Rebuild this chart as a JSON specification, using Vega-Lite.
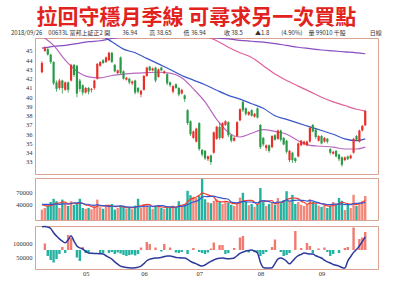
{
"$schema": "https://vega.github.io/schema/vega-lite/v6.json",
"padding": {"left": 10, "top": 6, "right": 0, "bottom": 0},
"background": "white",
"title": {"text": "拉回守穩月季線 可尋求另一次買點", "font": "Noto Sans CJK TC", "fontSize": 21, "fontWeight": "bold", "color": "#e2231d", "anchor": "middle", "offset": 2},
"spacing": 2,
"datasets": {
"k": [
{"i":0,"o":42.7,"h":43.9,"l":42.6,"c":43.7,"v":26000,"a":38000,"b":39000,"f":0,"n":161000},
{"i":1,"o":45.0,"h":45.5,"l":44.9,"c":45.3,"v":30000,"a":36000,"b":39000,"f":13000,"n":162000},
{"i":2,"o":45.2,"h":45.4,"l":44.5,"c":44.6,"v":37000,"a":35000,"b":39000,"f":-12000,"n":160000},
{"i":3,"o":44.6,"h":44.7,"l":43.6,"c":43.8,"v":45000,"a":36000,"b":39000,"f":-20000,"n":155000},
{"i":4,"o":43.8,"h":43.9,"l":41.3,"c":41.5,"v":53000,"a":38200,"b":39000,"f":-25000,"n":140000},
{"i":5,"o":41.6,"h":41.8,"l":40.6,"c":40.9,"v":47000,"a":42400,"b":39700,"f":-18000,"n":128000},
{"i":6,"o":41.0,"h":42.0,"l":40.8,"c":41.8,"v":30000,"a":42400,"b":39200,"f":-8000,"n":118000},
{"i":7,"o":41.8,"h":41.9,"l":40.4,"c":41.0,"v":51000,"a":45200,"b":40100,"f":6000,"n":110000},
{"i":8,"o":40.8,"h":41.7,"l":40.7,"c":41.6,"v":42000,"a":44600,"b":40300,"f":-6000,"n":104000},
{"i":9,"o":41.6,"h":41.7,"l":40.5,"c":40.8,"v":35000,"a":41000,"b":39600,"f":30000,"n":115000},
{"i":10,"o":41.8,"h":43.6,"l":41.7,"c":43.5,"v":47000,"a":41000,"b":41700,"f":24000,"n":129000},
{"i":11,"o":43.5,"h":43.6,"l":42.2,"c":42.4,"v":38000,"a":42600,"b":42500,"f":0,"n":110000},
{"i":12,"o":43.4,"h":43.5,"l":40.0,"c":40.4,"v":40000,"a":40400,"b":42800,"f":-15000,"n":93000},
{"i":13,"o":41.8,"h":42.0,"l":40.6,"c":40.9,"v":53000,"a":42600,"b":43600,"f":-22000,"n":86000},
{"i":14,"o":41.3,"h":41.4,"l":40.2,"c":40.5,"v":30000,"a":41600,"b":41300,"f":6000,"n":82000},
{"i":15,"o":40.5,"h":41.1,"l":40.4,"c":41.0,"v":28000,"a":37800,"b":39400,"f":-6000,"n":74000},
{"i":16,"o":41.0,"h":41.1,"l":40.3,"c":40.6,"v":30000,"a":36200,"b":39400,"f":-5000,"n":68000},
{"i":17,"o":40.8,"h":41.0,"l":40.5,"c":40.9,"v":27000,"a":33600,"b":37000,"f":0,"n":67000},
{"i":18,"o":41.0,"h":41.9,"l":40.8,"c":41.8,"v":38000,"a":30600,"b":36600,"f":0,"n":66000},
{"i":19,"o":42.0,"h":43.7,"l":41.9,"c":43.6,"v":51000,"a":34800,"b":38200,"f":0,"n":66000},
{"i":20,"o":43.4,"h":43.9,"l":43.3,"c":43.8,"v":32000,"a":35600,"b":36700,"f":-8000,"n":65000},
{"i":21,"o":44.0,"h":44.1,"l":43.6,"c":43.7,"v":28000,"a":35200,"b":35700,"f":-6000,"n":64000},
{"i":22,"o":43.8,"h":44.4,"l":43.7,"c":44.3,"v":35000,"a":36800,"b":35200,"f":0,"n":58000},
{"i":23,"o":44.0,"h":44.9,"l":43.9,"c":44.8,"v":38000,"a":36800,"b":33700,"f":-6000,"n":52000},
{"i":24,"o":44.8,"h":44.9,"l":43.7,"c":43.8,"v":40000,"a":34600,"b":34700,"f":-4000,"n":46000},
{"i":25,"o":43.5,"h":43.6,"l":42.7,"c":42.8,"v":26000,"a":33400,"b":34500,"f":-8000,"n":36000},
{"i":26,"o":42.6,"h":43.0,"l":42.5,"c":42.9,"v":30000,"a":33800,"b":34500,"f":-5000,"n":28000},
{"i":27,"o":44.3,"h":44.4,"l":42.5,"c":42.6,"v":36000,"a":34000,"b":35400,"f":-7000,"n":21000},
{"i":28,"o":42.8,"h":42.9,"l":41.9,"c":42.0,"v":33000,"a":33000,"b":34900,"f":-10000,"n":18000},
{"i":29,"o":41.9,"h":42.2,"l":41.8,"c":42.1,"v":28000,"a":30600,"b":32600,"f":-12000,"n":16000},
{"i":30,"o":42.0,"h":42.1,"l":41.4,"c":41.6,"v":30000,"a":31400,"b":32400,"f":-10000,"n":15000},
{"i":31,"o":41.5,"h":41.8,"l":41.3,"c":41.7,"v":27000,"a":30800,"b":32300,"f":-9000,"n":14000},
{"i":32,"o":41.8,"h":41.9,"l":40.3,"c":40.5,"v":36000,"a":30800,"b":32400,"f":-11000,"n":15000},
{"i":33,"o":41.0,"h":41.1,"l":40.4,"c":40.6,"v":53000,"a":34800,"b":33900,"f":-8000,"n":17000},
{"i":34,"o":40.3,"h":40.8,"l":40.0,"c":40.7,"v":30000,"a":35200,"b":32900,"f":5000,"n":21000},
{"i":35,"o":40.8,"h":42.4,"l":40.7,"c":42.3,"v":40000,"a":37200,"b":34300,"f":0,"n":30000},
{"i":36,"o":42.3,"h":43.3,"l":42.2,"c":43.2,"v":36000,"a":39000,"b":34900,"f":16000,"n":40000},
{"i":37,"o":43.3,"h":43.4,"l":42.8,"c":42.9,"v":33000,"a":38400,"b":34600,"f":12000,"n":46000},
{"i":38,"o":42.9,"h":43.2,"l":42.8,"c":43.1,"v":28000,"a":33400,"b":34100,"f":0,"n":48000},
{"i":39,"o":43.2,"h":43.3,"l":41.6,"c":41.8,"v":35000,"a":34400,"b":34800,"f":5000,"n":50000},
{"i":40,"o":42.2,"h":43.1,"l":42.1,"c":43.0,"v":38000,"a":34000,"b":35600,"f":0,"n":50000},
{"i":41,"o":43.2,"h":43.3,"l":42.8,"c":42.9,"v":30000,"a":32800,"b":35900,"f":-3000,"n":52000},
{"i":42,"o":42.6,"h":42.9,"l":42.5,"c":42.8,"v":28000,"a":31800,"b":35100,"f":12000,"n":55000},
{"i":43,"o":42.5,"h":42.6,"l":41.3,"c":41.5,"v":33000,"a":32800,"b":33100,"f":0,"n":57000},
{"i":44,"o":41.6,"h":41.7,"l":41.1,"c":41.3,"v":30000,"a":31800,"b":33100,"f":5000,"n":57000},
{"i":45,"o":40.6,"h":41.3,"l":40.4,"c":41.2,"v":36000,"a":31400,"b":32700,"f":0,"n":55000},
{"i":46,"o":41.4,"h":41.5,"l":40.9,"c":41.0,"v":32000,"a":31800,"b":32300,"f":-5000,"n":52000},
{"i":47,"o":41.0,"h":41.1,"l":40.1,"c":40.3,"v":47000,"a":35600,"b":33700,"f":-6000,"n":51000},
{"i":48,"o":40.4,"h":40.9,"l":40.3,"c":40.8,"v":38000,"a":36600,"b":34700,"f":-4000,"n":50000},
{"i":49,"o":40.2,"h":40.3,"l":39.5,"c":39.8,"v":40000,"a":38600,"b":35200,"f":0,"n":50000},
{"i":50,"o":38.6,"h":38.7,"l":37.0,"c":37.2,"v":73000,"a":46000,"b":38700,"f":-8000,"n":45000},
{"i":51,"o":37.4,"h":37.5,"l":35.8,"c":36.0,"v":62000,"a":52000,"b":41900,"f":0,"n":38000},
{"i":52,"o":35.6,"h":36.4,"l":35.5,"c":36.3,"v":58000,"a":54200,"b":44900,"f":4000,"n":33000},
{"i":53,"o":35.2,"h":36.7,"l":35.1,"c":36.6,"v":55000,"a":57600,"b":47100,"f":0,"n":29000},
{"i":54,"o":37.2,"h":37.3,"l":34.2,"c":34.4,"v":60000,"a":61600,"b":50100,"f":-4000,"n":24000},
{"i":55,"o":34.3,"h":34.4,"l":33.6,"c":33.8,"v":103000,"a":67600,"b":56800,"f":-6000,"n":21000},
{"i":56,"o":34.2,"h":34.3,"l":33.2,"c":33.4,"v":52000,"a":65600,"b":58800,"f":-8000,"n":25000},
{"i":57,"o":33.3,"h":33.7,"l":33.1,"c":33.6,"v":44000,"a":62800,"b":58500,"f":-5000,"n":32000},
{"i":58,"o":33.7,"h":33.8,"l":32.7,"c":33.0,"v":42000,"a":60200,"b":58900,"f":3000,"n":38000},
{"i":59,"o":34.0,"h":36.3,"l":33.9,"c":36.2,"v":48000,"a":57800,"b":59700,"f":15000,"n":43000},
{"i":60,"o":35.5,"h":36.9,"l":35.4,"c":36.8,"v":52000,"a":47600,"b":57600,"f":0,"n":47000},
{"i":61,"o":36.8,"h":37.3,"l":35.4,"c":35.6,"v":45000,"a":46200,"b":55900,"f":10000,"n":49000},
{"i":62,"o":35.6,"h":37.3,"l":35.5,"c":37.2,"v":40000,"a":45400,"b":54100,"f":10000,"n":50000},
{"i":63,"o":37.0,"h":37.5,"l":36.9,"c":37.4,"v":47000,"a":46400,"b":53300,"f":-8000,"n":48000},
{"i":64,"o":37.3,"h":37.4,"l":35.7,"c":35.9,"v":44000,"a":45600,"b":51700,"f":-6000,"n":47000},
{"i":65,"o":35.9,"h":36.0,"l":35.1,"c":35.3,"v":38000,"a":42800,"b":45200,"f":0,"n":48000},
{"i":66,"o":35.3,"h":35.8,"l":35.2,"c":35.6,"v":35000,"a":40800,"b":43500,"f":4000,"n":50000},
{"i":67,"o":35.8,"h":37.4,"l":35.7,"c":37.3,"v":40000,"a":40800,"b":43100,"f":0,"n":58000},
{"i":68,"o":37.5,"h":38.8,"l":37.4,"c":38.7,"v":56000,"a":42600,"b":44500,"f":25000,"n":66000},
{"i":69,"o":39.5,"h":39.6,"l":38.4,"c":38.6,"v":68000,"a":47400,"b":46500,"f":28000,"n":71000},
{"i":70,"o":38.8,"h":38.9,"l":38.0,"c":38.2,"v":45000,"a":48800,"b":45800,"f":0,"n":75000},
{"i":71,"o":38.1,"h":38.5,"l":38.0,"c":38.4,"v":37000,"a":49200,"b":45000,"f":-5000,"n":77000},
{"i":72,"o":38.6,"h":38.7,"l":37.9,"c":38.0,"v":40000,"a":49200,"b":45000,"f":0,"n":78000},
{"i":73,"o":37.9,"h":38.3,"l":37.8,"c":38.2,"v":33000,"a":44600,"b":43600,"f":-4000,"n":74000},
{"i":74,"o":38.8,"h":38.9,"l":37.7,"c":37.8,"v":38000,"a":38600,"b":43000,"f":-6000,"n":68000},
{"i":75,"o":37.0,"h":37.1,"l":34.4,"c":34.6,"v":80000,"a":45600,"b":47200,"f":-12000,"n":35000},
{"i":76,"o":35.6,"h":35.7,"l":34.7,"c":34.9,"v":45000,"a":47200,"b":48200,"f":-8000,"n":16000},
{"i":77,"o":34.5,"h":34.9,"l":34.2,"c":34.8,"v":35000,"a":46200,"b":47700,"f":-4000,"n":14000},
{"i":78,"o":34.8,"h":34.9,"l":34.0,"c":34.2,"v":40000,"a":47600,"b":46100,"f":0,"n":14000},
{"i":79,"o":34.6,"h":35.9,"l":34.5,"c":35.8,"v":44000,"a":48800,"b":43700,"f":6000,"n":15000},
{"i":80,"o":35.9,"h":36.0,"l":35.3,"c":35.4,"v":38000,"a":40400,"b":43000,"f":21000,"n":30000},
{"i":81,"o":35.5,"h":36.5,"l":35.4,"c":36.4,"v":55000,"a":42400,"b":44800,"f":0,"n":46000},
{"i":82,"o":36.4,"h":36.5,"l":35.2,"c":35.4,"v":42000,"a":43800,"b":45000,"f":-4000,"n":50000},
{"i":83,"o":35.6,"h":35.7,"l":34.8,"c":34.9,"v":50000,"a":45800,"b":46700,"f":-12000,"n":46000},
{"i":84,"o":35.3,"h":35.4,"l":33.9,"c":34.1,"v":72000,"a":51400,"b":50100,"f":-10000,"n":38000},
{"i":85,"o":33.2,"h":34.3,"l":33.0,"c":34.2,"v":48000,"a":53400,"b":46900,"f":-6000,"n":29000},
{"i":86,"o":34.0,"h":34.1,"l":32.9,"c":33.2,"v":63000,"a":55000,"b":48700,"f":0,"n":38000},
{"i":87,"o":33.4,"h":33.5,"l":32.9,"c":33.1,"v":40000,"a":54600,"b":49200,"f":38000,"n":50000},
{"i":88,"o":33.6,"h":35.1,"l":33.5,"c":35.0,"v":45000,"a":53600,"b":49700,"f":0,"n":58000},
{"i":89,"o":34.8,"h":35.4,"l":34.7,"c":35.3,"v":38000,"a":46800,"b":49100,"f":4000,"n":63000},
{"i":90,"o":34.9,"h":35.3,"l":34.8,"c":35.2,"v":35000,"a":44200,"b":48800,"f":0,"n":68000},
{"i":91,"o":34.8,"h":35.3,"l":34.7,"c":35.2,"v":40000,"a":39600,"b":47300,"f":14000,"n":66000},
{"i":92,"o":35.2,"h":36.8,"l":35.1,"c":36.7,"v":52000,"a":42000,"b":48300,"f":8000,"n":64000},
{"i":93,"o":37.0,"h":37.1,"l":36.2,"c":36.3,"v":45000,"a":42000,"b":47800,"f":-6000,"n":64000},
{"i":94,"o":36.5,"h":36.6,"l":35.5,"c":35.7,"v":40000,"a":42400,"b":44600,"f":0,"n":58000},
{"i":95,"o":35.3,"h":35.9,"l":35.2,"c":35.8,"v":36000,"a":42600,"b":43400,"f":3000,"n":54000},
{"i":96,"o":35.8,"h":35.9,"l":34.9,"c":35.0,"v":33000,"a":41200,"b":40400,"f":0,"n":50000},
{"i":97,"o":35.2,"h":35.7,"l":35.1,"c":35.6,"v":38000,"a":38400,"b":40200,"f":5000,"n":42000},
{"i":98,"o":35.5,"h":35.6,"l":35.0,"c":35.2,"v":30000,"a":35400,"b":38700,"f":-4000,"n":36000},
{"i":99,"o":34.4,"h":34.5,"l":33.8,"c":34.0,"v":36000,"a":34600,"b":38500,"f":-12000,"n":32000},
{"i":100,"o":33.9,"h":34.2,"l":33.8,"c":34.1,"v":45000,"a":36400,"b":39500,"f":-8000,"n":27000},
{"i":101,"o":34.2,"h":34.3,"l":33.5,"c":33.6,"v":40000,"a":37800,"b":39500,"f":0,"n":24000},
{"i":102,"o":33.8,"h":33.9,"l":33.1,"c":33.3,"v":55000,"a":41200,"b":39800,"f":-6000,"n":21000},
{"i":103,"o":33.5,"h":33.6,"l":32.5,"c":32.7,"v":48000,"a":44800,"b":40100,"f":0,"n":16000},
{"i":104,"o":33.2,"h":33.6,"l":33.1,"c":33.5,"v":25000,"a":42600,"b":38600,"f":4000,"n":14000},
{"i":105,"o":33.6,"h":33.7,"l":33.2,"c":33.3,"v":38000,"a":41200,"b":38800,"f":6000,"n":39000},
{"i":106,"o":33.4,"h":33.8,"l":33.3,"c":33.7,"v":30000,"a":39200,"b":38500,"f":0,"n":55000},
{"i":107,"o":34.0,"h":35.6,"l":33.9,"c":35.5,"v":63000,"a":40800,"b":41000,"f":45000,"n":70000},
{"i":108,"o":35.8,"h":35.9,"l":35.3,"c":35.4,"v":35000,"a":38200,"b":41500,"f":0,"n":80000},
{"i":109,"o":35.2,"h":36.5,"l":35.1,"c":36.4,"v":42000,"a":41600,"b":42100,"f":22000,"n":93000},
{"i":110,"o":36.4,"h":37.0,"l":36.3,"c":36.9,"v":48000,"a":43600,"b":42400,"f":25000,"n":108000},
{"i":111,"o":36.94,"h":38.65,"l":36.94,"c":38.5,"v":60000,"a":49600,"b":44400,"f":36000,"n":125000}
],
"ma": [
{"i":0,"m20":46.6,"m60":48.2,"m120":49.5,"m240":45.3},
{"i":4,"m20":45.6,"m60":47.9,"m120":49.4,"m240":45.5},
{"i":8,"m20":44.0,"m60":47.6,"m120":49.3,"m240":45.6},
{"i":12,"m20":42.8,"m60":47.3,"m120":49.1,"m240":45.8},
{"i":16,"m20":42.2,"m60":47.0,"m120":48.9,"m240":46.0},
{"i":20,"m20":42.1,"m60":46.7,"m120":48.8,"m240":46.1},
{"i":24,"m20":42.35,"m60":46.0,"m120":48.6,"m240":46.35},
{"i":28,"m20":42.5,"m60":45.2,"m120":48.3,"m240":46.5},
{"i":32,"m20":42.6,"m60":44.8,"m120":48.0,"m240":46.6},
{"i":36,"m20":42.65,"m60":44.2,"m120":47.8,"m240":46.65},
{"i":40,"m20":42.7,"m60":43.6,"m120":47.6,"m240":46.7},
{"i":44,"m20":42.6,"m60":43.0,"m120":47.3,"m240":46.7},
{"i":48,"m20":42.1,"m60":42.35,"m120":47.1,"m240":46.65},
{"i":52,"m20":40.9,"m60":41.85,"m120":46.9,"m240":46.6},
{"i":56,"m20":39.5,"m60":41.35,"m120":46.6,"m240":46.5},
{"i":60,"m20":37.6,"m60":40.75,"m120":46.1,"m240":46.4},
{"i":64,"m20":36.2,"m60":40.2,"m120":45.4,"m240":46.3},
{"i":68,"m20":35.7,"m60":39.8,"m120":44.8,"m240":46.15},
{"i":72,"m20":36.1,"m60":39.3,"m120":44.3,"m240":46.05},
{"i":76,"m20":36.5,"m60":38.8,"m120":43.4,"m240":45.95},
{"i":80,"m20":36.3,"m60":38.0,"m120":42.5,"m240":45.8},
{"i":84,"m20":36.0,"m60":37.6,"m120":41.8,"m240":45.6},
{"i":88,"m20":35.3,"m60":37.2,"m120":41.2,"m240":45.4},
{"i":92,"m20":34.8,"m60":36.8,"m120":40.6,"m240":45.25},
{"i":96,"m20":34.7,"m60":36.4,"m120":40.0,"m240":45.1},
{"i":100,"m20":34.6,"m60":36.0,"m120":39.5,"m240":45.0},
{"i":104,"m20":34.4,"m60":35.5,"m120":39.1,"m240":44.9},
{"i":108,"m20":34.4,"m60":35.3,"m120":38.7,"m240":44.8},
{"i":111,"m20":34.6,"m60":35.5,"m120":38.5,"m240":44.7}
]
},
"vconcat": [
{
"width": 343, "height": 136,
"title": {"text": "2018/09/26\u200300633L 富邦上証正2 開\u2003\u200336.94\u2003\u2003高 38.65\u2003\u2003低 36.94\u2003\u2003\u2003收 38.5\u2003\u2003▲1.8\u2003\u2003(4.90%)\u2003量 99010 千股\u2003\u2003\u2003\u2003日線", "anchor": "start", "frame": "group", "dx": -24, "font": "Noto Sans CJK TC", "fontSize": 6, "fontWeight": "normal", "color": "#333333", "offset": 2},
"encoding": {"x": {"field": "i", "type": "quantitative", "scale": {"domain": [-0.67, 113.67], "nice": false, "zero": false}, "axis": null}},
"layer": [
{"data": {"name": "ma"}, "mark": {"type": "line", "clip": true, "interpolate": "monotone", "color": "#8a4cc0", "strokeWidth": 1.2},
 "encoding": {"y": {"field": "m240", "type": "quantitative", "scale": {"domain": [31.7, 46.4], "nice": false, "zero": false}, "axis": {"values": [33,34,35,36,37,38,39,40,41,42,43,44,45], "title": null}}}},
{"data": {"name": "ma"}, "mark": {"type": "line", "clip": true, "interpolate": "monotone", "color": "#e0609a", "strokeWidth": 1.2},
 "encoding": {"y": {"field": "m120", "type": "quantitative", "scale": {"domain": [31.7, 46.4], "nice": false, "zero": false}, "axis": {"values": [33,34,35,36,37,38,39,40,41,42,43,44,45], "title": null}}}},
{"data": {"name": "ma"}, "mark": {"type": "line", "clip": true, "interpolate": "monotone", "color": "#3a58c8", "strokeWidth": 1.2},
 "encoding": {"y": {"field": "m60", "type": "quantitative", "scale": {"domain": [31.7, 46.4], "nice": false, "zero": false}, "axis": {"values": [33,34,35,36,37,38,39,40,41,42,43,44,45], "title": null}}}},
{"data": {"name": "ma"}, "mark": {"type": "line", "clip": true, "interpolate": "monotone", "color": "#b868c0", "strokeWidth": 1.2},
 "encoding": {"y": {"field": "m20", "type": "quantitative", "scale": {"domain": [31.7, 46.4], "nice": false, "zero": false}, "axis": {"values": [33,34,35,36,37,38,39,40,41,42,43,44,45], "title": null}}}},
{"data": {"name": "k"}, "mark": {"type": "rule", "strokeWidth": 0.8},
 "encoding": {"y": {"field": "l", "type": "quantitative", "scale": {"domain": [31.7, 46.4], "nice": false, "zero": false}, "axis": {"values": [33,34,35,36,37,38,39,40,41,42,43,44,45], "title": null}}, "y2": {"field": "h"},
  "color": {"condition": {"test": "datum.c >= datum.o", "value": "#e8302a"}, "value": "#2a9a48"}}},
{"data": {"name": "k"}, "mark": {"type": "bar", "width": 2.2},
 "encoding": {"y": {"field": "o", "type": "quantitative", "scale": {"domain": [31.7, 46.4], "nice": false, "zero": false}, "axis": {"values": [33,34,35,36,37,38,39,40,41,42,43,44,45], "title": null}}, "y2": {"field": "c"},
  "color": {"condition": {"test": "datum.c >= datum.o", "value": "#e8302a"}, "value": "#2a9a48"}}},
{"data": {"values": [{"t": "M20", "v": "34.22 ↑"}]},
 "encoding": {"y": {"datum": 33.96, "type": "quantitative", "scale": {"domain": [31.7, 46.4], "nice": false, "zero": false}, "axis": {"values": [33,34,35,36,37,38,39,40,41,42,43,44,45], "title": null}}, "color": {"value": "#c050b0"}},
 "layer": [
  {"mark": {"type": "text", "align": "left", "baseline": "middle", "fontSize": 5.5, "font": "Liberation Serif"}, "encoding": {"x": {"datum": -0.2, "type": "quantitative"}, "text": {"field": "t"}}},
  {"mark": {"type": "text", "align": "left", "baseline": "middle", "fontSize": 5.5, "font": "Liberation Serif"}, "encoding": {"x": {"datum": 24.7, "type": "quantitative"}, "text": {"field": "v"}}}
 ]},
{"data": {"values": [{"t": "M60", "v": "35.58 ↑"}]},
 "encoding": {"y": {"datum": 33.36, "type": "quantitative", "scale": {"domain": [31.7, 46.4], "nice": false, "zero": false}, "axis": {"values": [33,34,35,36,37,38,39,40,41,42,43,44,45], "title": null}}, "color": {"value": "#3050c0"}},
 "layer": [
  {"mark": {"type": "text", "align": "left", "baseline": "middle", "fontSize": 5.5, "font": "Liberation Serif"}, "encoding": {"x": {"datum": -0.2, "type": "quantitative"}, "text": {"field": "t"}}},
  {"mark": {"type": "text", "align": "left", "baseline": "middle", "fontSize": 5.5, "font": "Liberation Serif"}, "encoding": {"x": {"datum": 24.7, "type": "quantitative"}, "text": {"field": "v"}}}
 ]},
{"data": {"values": [{"t": "M120", "v": "38.47 ↓"}]},
 "encoding": {"y": {"datum": 32.76, "type": "quantitative", "scale": {"domain": [31.7, 46.4], "nice": false, "zero": false}, "axis": {"values": [33,34,35,36,37,38,39,40,41,42,43,44,45], "title": null}}, "color": {"value": "#e0508a"}},
 "layer": [
  {"mark": {"type": "text", "align": "left", "baseline": "middle", "fontSize": 5.5, "font": "Liberation Serif"}, "encoding": {"x": {"datum": -0.2, "type": "quantitative"}, "text": {"field": "t"}}},
  {"mark": {"type": "text", "align": "left", "baseline": "middle", "fontSize": 5.5, "font": "Liberation Serif"}, "encoding": {"x": {"datum": 24.7, "type": "quantitative"}, "text": {"field": "v"}}}
 ]},
{"data": {"values": [{"t": "M240", "v": "44.68 ↓"}]},
 "encoding": {"y": {"datum": 32.14, "type": "quantitative", "scale": {"domain": [31.7, 46.4], "nice": false, "zero": false}, "axis": {"values": [33,34,35,36,37,38,39,40,41,42,43,44,45], "title": null}}, "color": {"value": "#8040b0"}},
 "layer": [
  {"mark": {"type": "text", "align": "left", "baseline": "middle", "fontSize": 5.5, "font": "Liberation Serif"}, "encoding": {"x": {"datum": -0.2, "type": "quantitative"}, "text": {"field": "t"}}},
  {"mark": {"type": "text", "align": "left", "baseline": "middle", "fontSize": 5.5, "font": "Liberation Serif"}, "encoding": {"x": {"datum": 24.7, "type": "quantitative"}, "text": {"field": "v"}}}
 ]}
]
},
{
"width": 343, "height": 42,
"data": {"name": "k"},
"encoding": {"x": {"field": "i", "type": "quantitative", "scale": {"domain": [-0.67, 113.67], "nice": false, "zero": false}, "axis": null}},
"layer": [
{"mark": {"type": "bar", "width": 2.4},
 "encoding": {"y": {"field": "v", "type": "quantitative", "scale": {"domain": [0, 105000], "nice": false}, "axis": {"values": [40000, 70000], "format": "d", "title": null}},
  "color": {"condition": {"test": "datum.c >= datum.o", "value": "#f3887a"}, "value": "#22b2a0"}}},
{"mark": {"type": "line", "color": "#f0402e", "strokeWidth": 1.2, "interpolate": "monotone"},
 "encoding": {"y": {"field": "a", "type": "quantitative", "scale": {"domain": [0, 105000], "nice": false}, "axis": {"values": [40000, 70000], "format": "d", "title": null}}}},
{"mark": {"type": "line", "color": "#3556d0", "strokeWidth": 1.2, "interpolate": "monotone"},
 "encoding": {"y": {"field": "b", "type": "quantitative", "scale": {"domain": [0, 105000], "nice": false}, "axis": {"values": [40000, 70000], "format": "d", "title": null}}}},
{"data": {"values": [{"t": "VOL.", "v": "99010 千"}]},
 "encoding": {"y": {"datum": 100000, "type": "quantitative", "scale": {"domain": [0, 105000], "nice": false}, "axis": {"values": [40000, 70000], "format": "d", "title": null}}, "color": {"value": "#333333"}},
 "layer": [
  {"mark": {"type": "text", "align": "left", "baseline": "middle", "fontSize": 5, "font": "Noto Sans CJK TC"}, "encoding": {"x": {"datum": 16.3, "type": "quantitative"}, "text": {"field": "t"}}},
  {"mark": {"type": "text", "align": "left", "baseline": "middle", "fontSize": 5, "font": "Noto Sans CJK TC"}, "encoding": {"x": {"datum": 42.3, "type": "quantitative"}, "text": {"field": "v"}}}
 ]},
{"data": {"values": [{"t": "5", "v": "65199 千"}]},
 "encoding": {"y": {"datum": 88750, "type": "quantitative", "scale": {"domain": [0, 105000], "nice": false}, "axis": {"values": [40000, 70000], "format": "d", "title": null}}, "color": {"value": "#e8302a"}},
 "layer": [
  {"mark": {"type": "text", "align": "left", "baseline": "middle", "fontSize": 5, "font": "Noto Sans CJK TC"}, "encoding": {"x": {"datum": 16.3, "type": "quantitative"}, "text": {"field": "t"}}},
  {"mark": {"type": "text", "align": "left", "baseline": "middle", "fontSize": 5, "font": "Noto Sans CJK TC"}, "encoding": {"x": {"datum": 42.3, "type": "quantitative"}, "text": {"field": "v"}}}
 ]},
{"data": {"values": [{"t": "10", "v": "56992 千"}]},
 "encoding": {"y": {"datum": 77500, "type": "quantitative", "scale": {"domain": [0, 105000], "nice": false}, "axis": {"values": [40000, 70000], "format": "d", "title": null}}, "color": {"value": "#3050c0"}},
 "layer": [
  {"mark": {"type": "text", "align": "left", "baseline": "middle", "fontSize": 5, "font": "Noto Sans CJK TC"}, "encoding": {"x": {"datum": 16.3, "type": "quantitative"}, "text": {"field": "t"}}},
  {"mark": {"type": "text", "align": "left", "baseline": "middle", "fontSize": 5, "font": "Noto Sans CJK TC"}, "encoding": {"x": {"datum": 42.3, "type": "quantitative"}, "text": {"field": "v"}}}
 ]}
]
},
{
"width": 343, "height": 43,
"data": {"name": "k"},
"encoding": {"x": {"field": "i", "type": "quantitative", "scale": {"domain": [-0.67, 113.67], "nice": false, "zero": false},
  "axis": {"values": [15, 35, 54, 75, 96], "labelExpr": "datum.value == 15 ? '05' : datum.value == 35 ? '06' : datum.value == 54 ? '07' : datum.value == 75 ? '08' : '09'", "title": null, "labelPadding": 1}}},
"layer": [
{"mark": {"type": "bar", "width": 2.4},
 "encoding": {"y": {"field": "f", "type": "quantitative", "scale": {"domain": [-38000, 48000], "nice": false, "zero": false}, "axis": null},
  "color": {"condition": {"test": "datum.f > 0", "value": "#f07a70"}, "value": "#22b2a0"}}},
{"layer": [
 {"mark": {"type": "line", "color": "#2c3a9c", "strokeWidth": 1.5, "interpolate": "monotone"},
  "encoding": {"y": {"field": "n", "type": "quantitative", "scale": {"domain": [10700, 164000], "nice": false, "zero": false}, "axis": {"values": [50000, 100000], "format": "d", "orient": "left", "title": null}}}},
 {"data": {"values": [{"t": "三大法人", "v": "119668 千股"}]},
  "encoding": {"y": {"datum": 156000, "type": "quantitative", "scale": {"domain": [10700, 164000], "nice": false, "zero": false}, "axis": {"values": [50000, 100000], "format": "d", "orient": "left", "title": null}}, "color": {"value": "#3040a0"}},
  "layer": [
   {"mark": {"type": "text", "align": "left", "baseline": "middle", "fontSize": 5, "font": "Noto Sans CJK TC"}, "encoding": {"x": {"datum": 21.3, "type": "quantitative"}, "text": {"field": "t"}}},
   {"mark": {"type": "text", "align": "left", "baseline": "middle", "fontSize": 5, "font": "Noto Sans CJK TC"}, "encoding": {"x": {"datum": 45.7, "type": "quantitative"}, "text": {"field": "v"}}}
  ]},
 {"data": {"values": [{"t": "買賣超", "v": "36236 千股"}]},
  "encoding": {"y": {"datum": 136000, "type": "quantitative", "scale": {"domain": [10700, 164000], "nice": false, "zero": false}, "axis": {"values": [50000, 100000], "format": "d", "orient": "left", "title": null}}, "color": {"value": "#333333"}},
  "layer": [
   {"mark": {"type": "text", "align": "left", "baseline": "middle", "fontSize": 5, "font": "Noto Sans CJK TC"}, "encoding": {"x": {"datum": 21.3, "type": "quantitative"}, "text": {"field": "t"}}},
   {"mark": {"type": "text", "align": "left", "baseline": "middle", "fontSize": 5, "font": "Noto Sans CJK TC"}, "encoding": {"x": {"datum": 45.7, "type": "quantitative"}, "text": {"field": "v"}}}
  ]}
]}
],
"resolve": {"scale": {"y": "independent"}}
}
],
"config": {
"view": {"stroke": "#d9a38f", "strokeWidth": 1},
"axis": {"labelFont": "Liberation Serif", "labelFontSize": 6.5, "labelColor": "#333333", "ticks": false, "domain": false, "grid": false, "labelPadding": 3}
}
}
